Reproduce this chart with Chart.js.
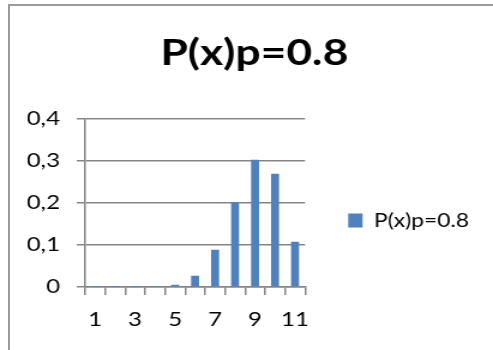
<!DOCTYPE html>
<html>
<head>
<meta charset="utf-8">
<script src="https://cdn.jsdelivr.net/npm/chart.js@4/dist/chart.umd.min.js"></script>
<style>
  html, body { margin: 0; padding: 0; background: #ffffff; }
  #wrap { position: relative; width: 493px; height: 350px; overflow: hidden; }
  #c { display: block; }
  #frame {
    position: absolute; left: 8px; top: 4px; width: 600px; height: 400px;
    border-top: 2px solid #9b9b9b; border-left: 2px solid #9b9b9b;
    pointer-events: none;
  }
</style>
</head>
<body>
<div id="wrap">
  <canvas id="c" width="411" height="350" style="width:493px;height:350px;"></canvas>
  <div id="frame"></div>
</div>
<script>
// Binomial probabilities P(x) for p = 0.8, categories 1..11
const categories = ['1', '2', '3', '4', '5', '6', '7', '8', '9', '10', '11'];
const seriesName = 'P(x)p=0.8';
const seriesValues = [0.0000001, 0.000004, 0.00007, 0.0008, 0.0055, 0.0264, 0.0881, 0.2013, 0.302, 0.2684, 0.1074];
const yTicks = [0, 0.1, 0.2, 0.3, 0.4];

const axisGray = '#868686';
const font = 'Lato';

new Chart(document.getElementById('c'), {
  type: 'bar',
  data: {
    labels: categories,
    datasets: [{
      label: seriesName,
      data: seriesValues,
      backgroundColor: '#4F81BD',
      borderWidth: 0,
      barPercentage: 0.4,
      categoryPercentage: 1.0
    }]
  },
  options: {
    responsive: false,
    devicePixelRatio: 1,
    animation: false,
    layout: { padding: { left: 23, right: 10, top: 0, bottom: 17 } },
    plugins: {
      title: {
        display: true,
        text: seriesName,
        color: '#000000',
        font: { family: font, size: 37, weight: 'bold', lineHeight: 1.2 },
        padding: { top: 31, bottom: 43 }
      },
      legend: {
        display: true,
        position: 'right',
        align: 'center',
        maxWidth: 156,
        // empty legend title only pushes the entry down beside the bars
        title: { display: true, text: '', font: { size: 12, lineHeight: 1 }, padding: { top: 48, bottom: 48 } },
        labels: {
          color: '#000000',
          font: { family: font, size: 19 },
          boxWidth: 12,
          boxHeight: 14,
          padding: 36
        }
      },
      tooltip: { enabled: false }
    },
    scales: {
      x: {
        offset: true,
        afterFit: function (scale) { scale.height = 46; },
        grid: {
          display: true,
          offset: true,
          drawOnChartArea: false,
          drawTicks: true,
          tickLength: 8,
          color: axisGray,
          lineWidth: 1.5
        },
        border: { display: true, color: axisGray, width: 1.5 },
        ticks: {
          autoSkip: false,
          maxRotation: 0,
          minRotation: 0,
          padding: 13,
          color: '#000000',
          font: { family: font, size: 20 },
          callback: function (value, index) {
            return index % 2 === 0 ? categories[index] : '';
          }
        }
      },
      y: {
        min: yTicks[0],
        max: yTicks[yTicks.length - 1],
        afterFit: function (scale) { scale.width = 48; },
        afterBuildTicks: function (scale) {
          scale.ticks = yTicks.map(v => ({ value: v }));
        },
        grid: {
          color: axisGray,
          lineWidth: 1.5,
          drawTicks: true,
          tickLength: 7
        },
        border: { display: true, color: axisGray, width: 1.5 },
        ticks: {
          padding: 14,
          color: '#000000',
          font: { family: font, size: 20 },
          callback: function (value) {
            return value === 0 ? '0' : value.toFixed(1).replace('.', ',');
          }
        }
      }
    }
  }
});
</script>
</body>
</html>
